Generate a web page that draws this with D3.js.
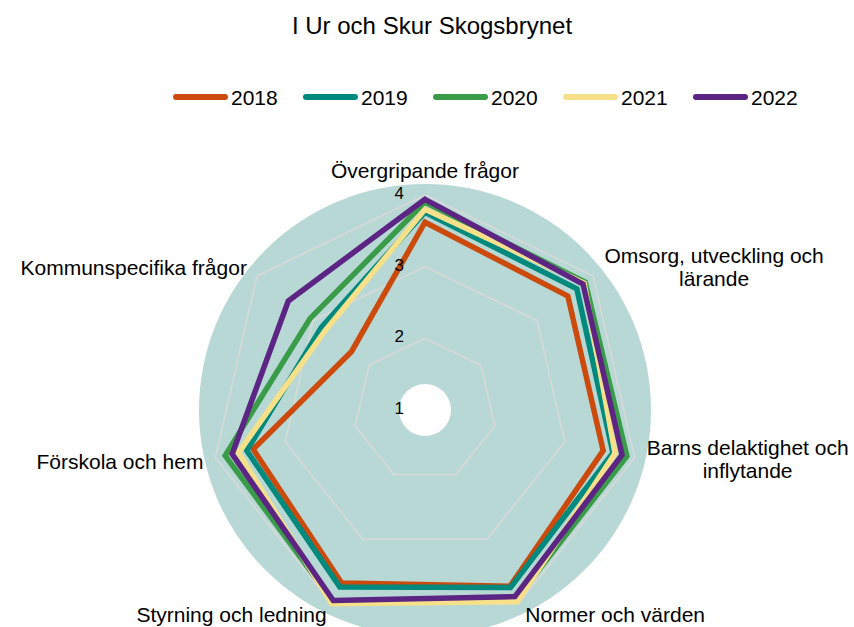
<!DOCTYPE html>
<html>
<head>
<meta charset="utf-8">
<script src="https://cdn.jsdelivr.net/npm/d3@7"></script>
<style>
  body { margin: 0; background: #fff; }
  text { font-family: "Liberation Sans", Arial, sans-serif; fill: #000; }
</style>
</head>
<body>
<svg id="radar" width="854" height="627"></svg>
<script>
// chart data
var title = "I Ur och Skur Skogsbrynet";
var categories = [
  ["Övergripande frågor"],
  ["Omsorg, utveckling och", "lärande"],
  ["Barns delaktighet och", "inflytande"],
  ["Normer och värden"],
  ["Styrning och ledning"],
  ["Förskola och hem"],
  ["Kommunspecifika frågor"]
];
var years = ["2018", "2019", "2020", "2021", "2022"];
var v2018 = [3.62, 3.55, 3.55, 3.73, 3.68, 3.46, 2.31];
var v2019 = [3.76, 3.71, 3.69, 3.75, 3.74, 3.55, 2.85];
var v2020 = [3.90, 3.86, 3.89, 3.93, 3.96, 3.86, 3.05];
var v2021 = [3.80, 3.84, 3.72, 3.97, 4.00, 3.67, 2.78];
var v2022 = [3.94, 3.82, 3.82, 3.89, 3.95, 3.76, 3.44];
var ticks = [1, 2, 3, 4];

var seriesValues = [v2018, v2019, v2020, v2021, v2022];
var colors = ["#cb4a0c", "#00897d", "#3a9b48", "#f6e08a", "#5c2483"];

var svg = d3.select("#radar"),
    cx = 425, cy = 410;

var r = d3.scaleLinear().domain([1, 4]).range([0, 215]);
var angle = d3.scaleLinear().domain([0, categories.length]).range([0, 2 * Math.PI]);

function pt(i, v) {
  var a = angle(i), rr = r(v);
  return [cx + rr * Math.sin(a), cy - rr * Math.cos(a)];
}

// title
svg.append("text")
    .attr("x", 432).attr("y", 34)
    .attr("text-anchor", "middle")
    .attr("font-size", 24)
    .text(title);

// legend
var legend = svg.append("g").selectAll("g")
    .data(years)
    .enter().append("g")
      .attr("transform", function(d, i) { return "translate(" + (173 + 130 * i) + ",97)"; });

legend.append("line")
    .attr("x1", 3).attr("x2", 52)
    .attr("stroke", function(d, i) { return colors[i]; })
    .attr("stroke-width", 6)
    .attr("stroke-linecap", "round");

legend.append("text")
    .attr("x", 58).attr("y", 8)
    .attr("font-size", 21)
    .text(function(d) { return d; });

var g = svg.append("g").attr("transform", "translate(" + cx + "," + cy + ")");

// background disc with hole
g.append("circle").attr("r", 226).attr("fill", "#b8d8d5");
g.append("circle").attr("r", 26).attr("fill", "#fff");

// grid heptagons
var gridLine = d3.lineRadial()
    .angle(function(d, i) { return angle(i); })
    .radius(function(d) { return r(d); })
    .curve(d3.curveLinearClosed);

g.selectAll(".grid")
    .data(ticks.slice(1))
    .enter().append("path")
      .attr("class", "grid")
      .attr("d", function(t) { return gridLine(categories.map(function() { return t; })); })
      .attr("fill", "none")
      .attr("stroke", "#d9d9d9")
      .attr("stroke-width", 1.5);

// series
g.selectAll(".series")
    .data(seriesValues)
    .enter().append("path")
      .attr("class", "series")
      .attr("d", gridLine)
      .attr("fill", "none")
      .attr("stroke", function(d, i) { return colors[i]; })
      .attr("stroke-width", 5.5)
      .attr("stroke-linejoin", "miter");

// tick labels
g.selectAll(".tick")
    .data(ticks)
    .enter().append("text")
      .attr("x", -21)
      .attr("y", function(d) { return -r(d) - 2; })
      .attr("dy", "0.35em")
      .attr("text-anchor", "end")
      .attr("font-size", 17)
      .text(function(d) { return d; });

// category labels
var labelOffset = [[0, -17, "middle"], [121, -13, "middle"], [113, -3, "middle"],
                   [7, 18, "start"], [-5, 18, "end"], [-12, 11, "end"], [-10, -1, "end"]];

categories.forEach(function(lines, i) {
  var p = pt(i, 4), o = labelOffset[i];
  var t = svg.append("text")
      .attr("text-anchor", o[2])
      .attr("font-size", 21);
  lines.forEach(function(line, j) {
    t.append("tspan")
      .attr("x", p[0] + o[0])
      .attr("y", p[1] + o[1] + j * 23.5)
      .text(line);
  });
});
</script>
</body>
</html>
